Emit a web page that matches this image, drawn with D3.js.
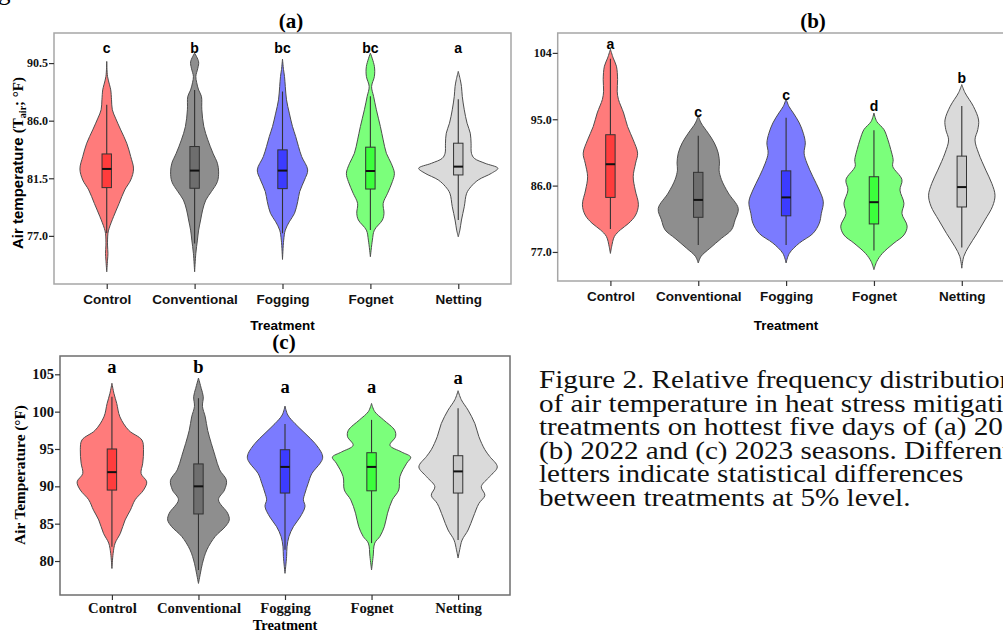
<!DOCTYPE html>
<html>
<head>
<meta charset="utf-8">
<script src="https://cdn.jsdelivr.net/npm/d3@7"></script>
<style>
  body { margin: 0; background: #fff; }
  svg { display: block; }
</style>
</head>
<body>
<svg id="fig" width="1003" height="630"></svg>
<script>
// treatments, same order in every panel
const treatments = ["Control", "Conventional", "Fogging", "Fognet", "Netting"];
const violinFills = ["#ff7b7b", "#8e8e8e", "#7b7bff", "#7bff7b", "#dadada"];
const boxFills = ["#ff3c3c", "#6e6e6e", "#3c3cff", "#3cff3c", "#c8c8c8"];

// violin outlines: [temperature °F, relative density]
const violinsA = [
  [[74.19,0],[75.1,.02],[75.63,.03],[76.28,.02],[77.19,.03],[77.59,.06],[78.5,.17],[79.54,.31],[80.59,.45],[81.37,.6],[82.23,.67],[83.19,.6],[84.24,.5],[85.28,.35],[86.2,.22],[86.85,.14],[87.63,.12],[88.41,.1],[88.8,.07],[89.46,.02],[90.63,0]],
  [[74.19,0],[75.63,.03],[76.67,.07],[77.45,.1],[78.24,.15],[79.02,.2],[79.8,.28],[80.46,.42],[81.24,.57],[82.0,.6],[82.67,.57],[83.45,.46],[84.5,.33],[85.54,.23],[86.85,.18],[87.9,.17],[88.4,.1],[89.0,.05],[89.46,.03],[90.1,.08],[90.6,.1],[91.28,0]],
  [[75.16,0],[76.67,.03],[77.45,.07],[78.1,.17],[78.76,.3],[79.67,.38],[80.46,.43],[81.37,.55],[82.15,.63],[83.19,.48],[83.98,.4],[84.76,.33],[85.54,.25],[86.59,.17],[87.63,.1],[88.67,.07],[89.46,.05],[90.0,.025],[90.81,0]],
  [[75.37,0],[76.67,.05],[77.45,.1],[78.24,.3],[78.76,.34],[79.54,.32],[80.33,.43],[81.24,.55],[81.89,.6],[82.67,.52],[83.45,.4],[84.5,.32],[85.54,.25],[86.85,.15],[87.9,.08],[88.67,.03],[89.46,.1],[90.24,.1],[91.28,0]],
  [[76.93,0],[77.45,.04],[78.24,.08],[79.28,.15],[80.33,.21],[80.85,.32],[81.37,.5],[81.89,.83],[82.28,.99],[82.67,.67],[83.06,.4],[83.45,.33],[84.24,.32],[85.02,.3],[85.8,.22],[86.85,.15],[87.9,.1],[88.67,.08],[89.2,.05],[89.85,0]]
];
const violinsB = [
  [[76.8,0],[77.7,.03],[79.1,.1],[80.0,.25],[80.9,.46],[82.0,.63],[83.4,.7],[85.4,.62],[87.2,.57],[89.05,.63],[90.4,.68],[92.2,.57],[94.0,.43],[95.85,.33],[97.7,.2],[98.8,.17],[100.4,.18],[102.2,.15],[103.3,.07],[104.5,0]],
  [[75.5,0],[76.4,.07],[77.5,.29],[78.85,.58],[80.0,.83],[81.35,.92],[82.9,1.0],[85.0,.75],[86.8,.58],[88.1,.52],[89.05,.53],[90.4,.5],[91.8,.4],[93.1,.25],[94.5,.07],[95.5,0]],
  [[75.5,0],[76.8,.08],[78.2,.33],[79.5,.67],[80.9,.83],[82.2,.88],[83.8,.93],[85.4,.83],[87.2,.67],[89.05,.52],[90.4,.45],[91.8,.48],[93.1,.43],[94.5,.33],[95.85,.18],[96.75,.07],[97.75,0]],
  [[74.6,0],[75.7,.07],[76.8,.21],[78.2,.5],[79.3,.75],[80.5,.83],[82.2,.7],[83.6,.75],[85.4,.65],[86.8,.7],[88.6,.47],[89.5,.48],[90.9,.42],[92.2,.35],[93.6,.25],[94.7,.07],[95.85,0]],
  [[74.8,0],[76.4,.05],[77.7,.17],[79.5,.38],[81.35,.58],[83.2,.77],[84.7,.83],[86.3,.75],[88.1,.6],[90.4,.42],[92.2,.33],[93.6,.4],[94.9,.42],[96.75,.29],[98.6,.08],[99.7,0]]
];
const violinsC = [
  [[79.0,0],[81.0,.03],[82.4,.08],[83.7,.21],[85.5,.33],[86.8,.46],[88.2,.58],[89.5,.79],[90.6,.87],[91.7,.73],[93.1,.77],[94.9,.79],[96.2,.75],[97.5,.42],[99.3,.2],[101.1,.12],[102.45,.05],[103.8,0]],
  [[77.0,0],[78.4,.05],[79.7,.1],[81.5,.21],[83.3,.42],[84.6,.67],[85.5,.77],[86.4,.73],[88.2,.5],[89.5,.65],[90.8,.7],[92.2,.53],[94.0,.42],[95.75,.32],[97.5,.23],[99.3,.17],[100.7,.1],[102.0,.12],[103.1,.07],[104.5,0]],
  [[78.35,0],[80.6,.04],[81.9,.05],[83.3,.1],[84.6,.21],[85.9,.38],[87.3,.5],[88.2,.46],[89.1,.5],[90.4,.58],[91.7,.67],[93.1,.88],[93.75,.94],[94.4,.92],[95.75,.75],[97.1,.5],[98.4,.25],[99.55,.07],[100.75,0]],
  [[78.8,0],[80.6,.04],[82.4,.08],[83.3,.21],[84.6,.32],[86.4,.4],[88.2,.52],[89.5,.68],[91.3,.71],[93.1,.88],[93.9,.98],[94.6,.75],[95.5,.46],[96.65,.6],[97.5,.58],[98.9,.3],[100.0,.08],[101.1,0]],
  [[80.4,0],[81.5,.04],[82.8,.1],[84.15,.25],[85.9,.38],[87.7,.52],[88.8,.67],[89.95,.58],[91.3,.79],[92.6,.98],[94.0,.79],[94.9,.67],[96.65,.52],[98.4,.42],[100.2,.25],[101.6,.08],[102.8,0]]
];

// box plots: [q1, median, q3, lower whisker, upper whisker]
const boxesA = [[80.77,82.23,83.4,77.2,87.24],[80.72,82.1,83.98,76.4,88.4],[80.69,82.1,83.72,77.2,88.28],[80.66,82.07,83.93,77.45,87.9],[81.76,82.41,84.24,78.24,87.68]];
const boxesB = [[84.4,88.9,92.9,80.1,103.2],[81.7,84.06,87.8,77.95,92.76],[81.9,84.4,88.0,77.95,95.2],[80.8,83.75,87.2,77.2,93.5],[83.1,85.8,90.0,77.6,96.8]];
const boxesC = [[89.5,91.9,95.0,81.9,102.0],[86.3,90.0,93.0,78.8,101.8],[89.1,92.6,94.9,81.5,98.35],[89.4,92.6,94.5,82.4,98.9],[89.1,92.0,94.1,82.8,100.45]];

// significance letters and the temperature they sit at
const lettersA = ["c", "b", "bc", "bc", "a"];
const letterAtA = [91.67, 91.67, 91.67, 91.67, 91.67];
const lettersB = ["a", "c", "c", "d", "b"];
const letterAtB = [105.2, 96.0, 98.3, 96.8, 100.6];
const lettersC = ["a", "b", "a", "a", "a"];
const letterAtC = [106.0, 106.0, 103.4, 103.4, 104.6];

// y ticks
const ticksA = [77, 81.5, 86, 90.5];
const tickLabelsA = ["77.0", "81.5", "86.0", "90.5"];
const ticksB = [77, 86, 95, 104];
const tickLabelsB = ["77.0", "86.0", "95.0", "104"];
const ticksC = [80, 85, 90, 95, 100, 105];
const tickLabelsC = ["80", "85", "90", "95", "100", "105"];

const captionLines = [
  "Figure 2. Relative frequency distribution",
  "of air temperature in heat stress mitigation",
  "treatments on hottest five days of (a) 2021,",
  "(b) 2022 and (c) 2023 seasons. Different",
  "letters indicate statistical differences",
  "between treatments at 5% level."
];

const svg = d3.select("#fig");
const SERIF = "'Liberation Serif', 'Times New Roman', serif";
const SANS = "'Liberation Sans', Arial, sans-serif";

// half width of a violin, px
const w = d3.scaleLinear().domain([0, 1]).range([0, 40]);

function drawPanel(p) {
  const g = svg.append("g");
  const x = d3.scalePoint().domain(treatments).range([p.left, p.right]).padding(0.6);
  const y = d3.scaleLinear().domain(p.yDomain).range([p.bottom, p.top]);

  // violins
  const area = d3.area()
    .y(d => y(d[0]))
    .curve(d3.curveCatmullRom.alpha(0.5));

  treatments.forEach((t, i) => {
    const cx = x(t);
    g.append("path")
      .datum(p.violins[i])
      .attr("d", area.x0(d => cx - w(d[1])).x1(d => cx + w(d[1])))
      .attr("fill", violinFills[i])
      .attr("stroke", "#4d4d4d")
      .attr("stroke-width", 1);

    const b = p.boxes[i];
    g.append("line")
      .attr("x1", cx).attr("x2", cx)
      .attr("y1", y(b[3])).attr("y2", y(b[4]))
      .attr("stroke", "#333").attr("stroke-width", 1.1);
    g.append("rect")
      .attr("x", cx - 4.7).attr("width", 9.4)
      .attr("y", y(b[2])).attr("height", y(b[0]) - y(b[2]))
      .attr("fill", boxFills[i])
      .attr("stroke", "#333").attr("stroke-width", 1);
    g.append("line")
      .attr("x1", cx - 4.7).attr("x2", cx + 4.7)
      .attr("y1", y(b[1])).attr("y2", y(b[1]))
      .attr("stroke", "#111").attr("stroke-width", 2);

    g.append("text")
      .attr("x", cx).attr("y", y(p.letterAt[i]))
      .attr("dy", "0.36em")
      .attr("text-anchor", "middle")
      .style("font-family", p.letterFont).style("font-weight", "bold")
      .style("font-size", p.letterSize + "px")
      .text(p.letters[i]);
  });

  // frame
  g.append("rect")
    .attr("x", p.left).attr("y", p.top)
    .attr("width", p.right - p.left).attr("height", p.bottom - p.top)
    .attr("fill", "none").attr("stroke", p.frameColor).attr("stroke-width", 1.5);

  // axes
  const ya = g.append("g")
    .attr("transform", `translate(${p.left},0)`)
    .call(d3.axisLeft(y).tickValues(p.ticks).tickFormat((d, i) => p.tickLabels[i]).tickSize(5).tickPadding(1));
  ya.select(".domain").remove();
  ya.selectAll("line").attr("stroke", "#333").attr("stroke-width", 1.2);
  ya.selectAll("text")
    .style("font-family", SERIF).style("font-weight", "bold")
    .style("font-size", p.tickSize + "px").attr("fill", "#111");

  const xa = g.append("g")
    .attr("transform", `translate(0,${p.bottom})`)
    .call(d3.axisBottom(x).tickSize(5).tickPadding(p.catPad));
  xa.select(".domain").remove();
  xa.selectAll("line").attr("stroke", "#333").attr("stroke-width", 1.2);
  xa.selectAll("text")
    .style("font-family", p.catFont).style("font-weight", "bold")
    .style("font-size", p.catSize + "px").attr("fill", "#111");

  // x title
  g.append("text")
    .attr("x", x("Fogging")).attr("y", p.xTitleY)
    .attr("text-anchor", "middle")
    .style("font-family", p.catFont).style("font-weight", "bold")
    .style("font-size", p.xTitleSize + "px")
    .text("Treatment");

  // panel title
  g.append("text")
    .attr("x", p.titleX).attr("y", p.titleY)
    .attr("text-anchor", "middle")
    .style("font-family", SERIF).style("font-weight", "bold")
    .style("font-size", "21px")
    .text(p.title);

  return g;
}

const gA = drawPanel({
  left: 54, right: 511, top: 33, bottom: 284, yDomain: [73.24, 92.85],
  violins: violinsA, boxes: boxesA, letters: lettersA, letterAt: letterAtA,
  ticks: ticksA, tickLabels: tickLabelsA, tickSize: 12,
  letterFont: SANS, letterSize: 14, catFont: SANS, catSize: 13.5, catPad: 5,
  xTitleY: 330, xTitleSize: 13.5, frameColor: "#a6a6a6",
  title: "(a)", titleX: 291, titleY: 28
});
const gB = drawPanel({
  left: 557.7, right: 1014.5, top: 33, bottom: 281, yDomain: [73.06, 106.7],
  violins: violinsB, boxes: boxesB, letters: lettersB, letterAt: letterAtB,
  ticks: ticksB, tickLabels: tickLabelsB, tickSize: 12,
  letterFont: SANS, letterSize: 14, catFont: SANS, catSize: 13.5, catPad: 5,
  xTitleY: 330, xTitleSize: 13.5, frameColor: "#a6a6a6",
  title: "(b)", titleX: 813, titleY: 28
});
const gC = drawPanel({
  left: 60, right: 510, top: 356, bottom: 595, yDomain: [75.45, 107.45],
  violins: violinsC, boxes: boxesC, letters: lettersC, letterAt: letterAtC,
  ticks: ticksC, tickLabels: tickLabelsC, tickSize: 14.5,
  letterFont: SERIF, letterSize: 18.5, catFont: SERIF, catSize: 14.7, catPad: 3,
  xTitleY: 629.5, xTitleSize: 14.5, frameColor: "#6e6e6e",
  title: "(c)", titleX: 284, titleY: 349
});

// y titles
const tA = gA.append("text")
  .attr("transform", "translate(23,163) rotate(-90)")
  .attr("text-anchor", "middle")
  .style("font-weight", "bold").style("font-size", "15px");
tA.append("tspan").style("font-family", SANS).text("Air temperature ");
tA.append("tspan").style("font-family", SERIF).text("(T");
tA.append("tspan").style("font-family", SERIF).style("font-size", "10px").attr("dy", 3).text("air");
tA.append("tspan").style("font-family", SERIF).attr("dy", -3).text("; \u00b0F)");

gC.append("text")
  .attr("transform", "translate(25,475) rotate(-90)")
  .attr("text-anchor", "middle")
  .style("font-family", SERIF).style("font-weight", "bold").style("font-size", "15.3px")
  .text("Air Temperature (\u00b0F)");

// caption (the source is stretched a little horizontally)
const cap = svg.append("g").attr("transform", "translate(539,0) scale(1.2,1)");
cap.selectAll("text")
  .data(captionLines)
  .join("text")
  .attr("x", 0)
  .attr("y", (d, i) => 388.5 + i * 23.5)
  .style("font-family", SERIF).style("font-size", "24.3px").attr("fill", "#111")
  .text(d => d);

// tail of the word "Figure" from the line above
svg.append("text")
  .attr("x", -2).attr("y", 0)
  .style("font-family", SERIF).style("font-size", "25px")
  .text("g");
</script>
</body>
</html>
